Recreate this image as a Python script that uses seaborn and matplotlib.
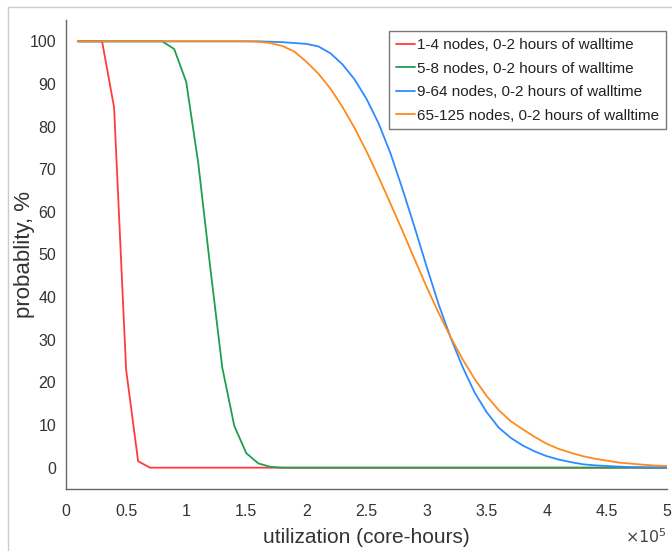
import matplotlib
matplotlib.use("Agg")
import matplotlib.pyplot as plt
from matplotlib.lines import Line2D
from matplotlib.ticker import FuncFormatter, MultipleLocator
import numpy as np
import pandas as pd
import seaborn as sns

# utilization grid, core-hours (every 10,000)
utilization = [i * 10000 for i in range(1, 51)]

prob_1_4 = [100, 100, 100, 84.5, 23.0, 1.5] + [0] * 44

prob_5_8 = [100, 100, 100, 100, 100, 100, 100, 100, 98.2, 90.5,
            71.5, 47.0, 23.5, 9.8, 3.4, 1.0, 0.2] + [0] * 33

prob_9_64 = [100] * 16 + [99.9, 99.8, 99.6, 99.4,
             98.8, 97.2, 94.6, 91.1, 86.5, 80.8, 73.7, 65.3, 56.4, 47.2,
             38.3, 30.5, 23.6, 17.6, 13.0, 9.4, 7.0, 5.2, 3.8, 2.7,
             1.9, 1.3, 0.8, 0.55, 0.4, 0.25, 0.15, 0.1, 0.05, 0.03]

prob_65_125 = [100] * 15 + [99.9, 99.6, 98.9, 97.6, 95.2,
               92.4, 88.9, 84.6, 79.7, 74.2, 68.2, 61.9, 55.5, 48.9, 42.4,
               36.3, 30.6, 25.4, 20.8, 16.8, 13.5, 10.9, 9.0, 7.2, 5.6,
               4.4, 3.5, 2.7, 2.1, 1.65, 1.2, 0.95, 0.7, 0.5, 0.4]

series_labels = ["1-4 nodes, 0-2 hours of walltime",
                 "5-8 nodes, 0-2 hours of walltime",
                 "9-64 nodes, 0-2 hours of walltime",
                 "65-125 nodes, 0-2 hours of walltime"]
series_values = [prob_1_4, prob_5_8, prob_9_64, prob_65_125]
series_colors = ["#ff3b3b", "#1f9e4f", "#2e8bff", "#ff8a1c"]

df = pd.concat(
    [pd.DataFrame({"utilization": utilization, "probability": vals, "group": lab})
     for lab, vals in zip(series_labels, series_values)],
    ignore_index=True)

sns.set_theme(style="white")
plt.rcParams["font.family"] = ["Liberation Sans", "DejaVu Sans"]

fig = plt.figure(figsize=(6.72, 5.51), dpi=100)
ax = fig.add_axes([66 / 672, 1 - 489 / 551, (667 - 66) / 672, (489 - 20) / 551])

sns.lineplot(data=df, x="utilization", y="probability", hue="group",
             hue_order=series_labels, palette=series_colors,
             linewidth=1.3, ax=ax, legend=True)

ax.set_xlim(0, 500000)
ax.set_ylim(-5, 105)
ax.xaxis.set_major_locator(MultipleLocator(50000))
ax.yaxis.set_major_locator(MultipleLocator(10))
ax.xaxis.set_major_formatter(FuncFormatter(lambda v, p: f"{v / 1e5:g}"))
ax.yaxis.set_major_formatter(FuncFormatter(lambda v, p: f"{v:g}"))

for side in ["top", "right"]:
    ax.spines[side].set_visible(False)
for side in ["left", "bottom"]:
    ax.spines[side].set_color("#666666")
    ax.spines[side].set_linewidth(1.0)

ax.tick_params(axis="both", direction="in", length=5, width=0.8,
               colors="#666666", labelcolor="#333333", labelsize=11.5)
ax.tick_params(axis="x", pad=11)
ax.tick_params(axis="y", pad=7)

ax.set_xlabel("utilization (core-hours)", fontsize=15, color="#333333", labelpad=6)
ax.set_ylabel("probablity, %", fontsize=16, color="#333333")
ax.yaxis.set_label_coords(-0.052, 0.5)

ax.text(1.0, -0.102, r"$\times10^5$", transform=ax.transAxes, ha="right",
        va="center", fontsize=11.5, color="#444444")

leg = ax.legend(loc="upper right", bbox_to_anchor=(0.998, 0.976), fontsize=11,
                frameon=True, fancybox=False, edgecolor="#555555",
                handlelength=1.2, handletextpad=0.15, borderpad=0.45,
                labelspacing=0.62, borderaxespad=0.0)
leg.get_frame().set_linewidth(1.0)
for t in leg.get_texts():
    t.set_color("#222222")

# light outer frame along the top and left edges
fig.add_artist(Line2D([8 / 672, 1], [1 - 7 / 551, 1 - 7 / 551],
                      transform=fig.transFigure, color="#cccccc", linewidth=1))
fig.add_artist(Line2D([8 / 672, 8 / 672], [0, 1 - 7 / 551],
                      transform=fig.transFigure, color="#cccccc", linewidth=1))

fig.savefig("out.png", dpi=100)
